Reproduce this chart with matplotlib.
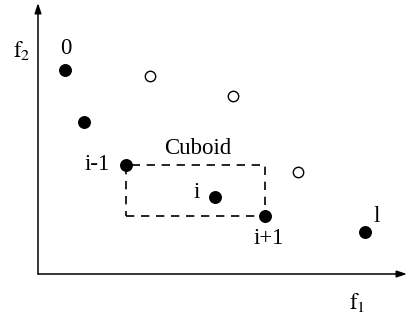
import matplotlib.pyplot as plt
from matplotlib.patches import Rectangle

plt.rcParams['font.family'] = ['Liberation Serif', 'DejaVu Serif']
plt.rcParams['mathtext.fontset'] = 'stix'

# non-dominated points (filled), labelled 0 .. l along the front
front_f1 = [2.7, 4.6, 8.8, 17.7, 22.7, 32.7]
front_f2 = [20.4, 15.2, 10.9, 7.7, 5.8, 4.2]

# dominated points (open)
dom_f1 = [11.2, 19.5, 26.0]
dom_f2 = [19.8, 17.8, 10.2]

fig = plt.figure(figsize=(4.08, 3.2), dpi=100)
ax = fig.add_axes([0, 0, 1, 1])
ax.set_xlim(-3.8, 37.0)
ax.set_ylim(-4.6, 27.4)
ax.axis('off')

# axes with arrow heads
arrow = dict(arrowstyle='-|>,head_length=0.6,head_width=0.2', color='black', lw=1.1,
             shrinkA=0, shrinkB=0)
ax.annotate('', xy=(36.9, 0), xytext=(0, 0), arrowprops=arrow)
ax.annotate('', xy=(0, 27.1), xytext=(0, 0), arrowprops=arrow)

# cuboid spanned by neighbours i-1 and i+1
i = 3
x0, y0 = front_f1[i - 1], front_f2[i + 1]
w, h = front_f1[i + 1] - x0, front_f2[i - 1] - y0
ax.add_patch(Rectangle((x0, y0), w, h, fill=False, ec='black', lw=1.2,
                       ls=(0, (5, 4)), zorder=2))

ax.plot(front_f1, front_f2, 'o', color='black', ms=8.3, zorder=3)
ax.plot(dom_f1, dom_f2, 'o', mfc='white', mec='black', mew=1.0, ms=7.5, zorder=3)

fs = 16.5
ax.text(-1.6, 22.4, r'$\mathrm{f}_2$', fontsize=fs, ha='center', va='center')
ax.text(31.9, -2.8, r'$\mathrm{f}_1$', fontsize=fs, ha='center', va='center')
ax.text(2.8, 22.6, '0', fontsize=fs, ha='center', va='center')
ax.text(7.2, 10.9, 'i-1', fontsize=fs, ha='right', va='center')
ax.text(16.0, 12.6, 'Cuboid', fontsize=fs, ha='center', va='center')
ax.text(15.9, 8.1, 'i', fontsize=fs, ha='center', va='center')
ax.text(23.1, 3.6, 'i+1', fontsize=fs, ha='center', va='center')
ax.text(33.9, 5.8, 'l', fontsize=fs, ha='center', va='center')

fig.savefig('out.png', dpi=100)
